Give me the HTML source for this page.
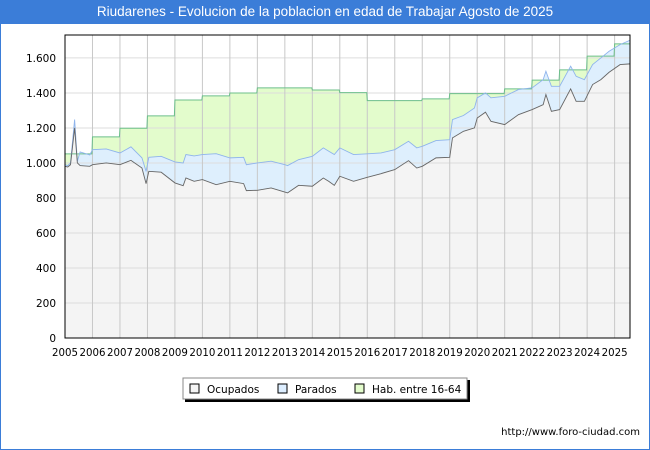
<!DOCTYPE html>
<html><head><meta charset="utf-8"><style>
body{margin:0;width:650px;height:450px;overflow:hidden;background:#fff;font-family:"Liberation Sans",sans-serif}
#frame{position:absolute;left:0;top:0;width:648px;height:448px;border:1px solid #3b7dd8}
#title{position:absolute;left:0;top:0;width:650px;height:24px;background:#3b7dd8;color:#fff;font-size:13.5px;line-height:24px;text-align:center}
#foot{position:absolute;right:10px;top:427px;font-size:10px;color:#000;font-family:"DejaVu Sans",sans-serif}
</style></head><body>
<div id="frame"></div>
<div id="title">Riudarenes - Evolucion de la poblacion en edad de Trabajar Agosto de 2025</div>
<svg id="chart" width="650" height="450" style="position:absolute;left:0;top:0"></svg>
<div id="foot">http://www.foro-ciudad.com</div>
<script>
const times=[2005.0,2005.1,2005.2,2005.35,2005.45,2005.55,2005.9,2006.0,2006.5,2007.0,2007.4,2007.8,2007.95,2008.05,2008.5,2009.0,2009.3,2009.4,2009.7,2010.0,2010.5,2011.0,2011.5,2011.6,2012.0,2012.5,2013.0,2013.1,2013.5,2014.0,2014.4,2014.6,2014.8,2015.0,2015.5,2016.0,2016.5,2017.0,2017.5,2017.8,2018.0,2018.5,2019.0,2019.1,2019.5,2019.9,2020.0,2020.3,2020.5,2021.0,2021.5,2022.0,2022.4,2022.5,2022.7,2023.0,2023.4,2023.6,2023.9,2024.2,2024.5,2024.8,2025.2,2025.58];
const ocupados=[981,977,990,1200,1000,985,981,990,1000,990,1015,971,882,952,947,886,870,914,895,905,876,895,882,842,844,857,834,829,872,867,914,895,872,924,895,918,939,962,1013,971,981,1029,1032,1143,1181,1200,1257,1290,1238,1219,1276,1305,1333,1391,1295,1305,1423,1352,1352,1448,1476,1518,1562,1566];
const activos=[990,985,1000,1248,1010,1063,1046,1076,1080,1057,1092,1029,952,1032,1038,1006,1000,1048,1040,1048,1053,1029,1032,990,1000,1010,990,985,1019,1038,1086,1067,1048,1086,1048,1052,1057,1076,1124,1086,1095,1128,1133,1248,1271,1314,1372,1400,1372,1381,1419,1429,1476,1524,1438,1438,1553,1495,1476,1562,1600,1638,1676,1701];
const habYears=[2005,2006,2007,2008,2009,2010,2011,2012,2013,2014,2015,2016,2017,2018,2019,2020,2021,2022,2023,2024,2025];
const habValues=[1052,1149,1198,1269,1360,1383,1400,1429,1429,1417,1402,1356,1356,1366,1396,1396,1423,1473,1532,1610,1680];
const yTicks=[0,200,400,600,800,1000,1200,1400,1600];
const yTickLabels=["0","200","400","600","800","1.000","1.200","1.400","1.600"];
const xYears=[2005,2006,2007,2008,2009,2010,2011,2012,2013,2014,2015,2016,2017,2018,2019,2020,2021,2022,2023,2024,2025];

const L=65,R=630,T=35,B=338,X0=2005,X1=2025.56,YMAX=1731;
const sx=v=>L+(v-X0)/(X1-X0)*(R-L);
const sy=v=>B-v/YMAX*(B-T);
const svg=document.getElementById('chart');
const NS='http://www.w3.org/2000/svg';
const FONT='"DejaVu Sans", sans-serif';
function mk(tag,attrs,parent){const e=document.createElementNS(NS,tag);for(const k in attrs)e.setAttribute(k,attrs[k]);(parent||svg).appendChild(e);return e;}

mk('rect',{x:L,y:T,width:R-L,height:B-T,fill:'#fff'});
const habPts=[];
habYears.forEach((y,i)=>{const t0=Math.max(y,X0);const t1=i<habYears.length-1?habYears[i+1]-0.02:2025.58;habPts.push([sx(t0),sy(habValues[i])]);habPts.push([sx(Math.min(t1,X1)),sy(habValues[i])]);});
const linePts=(ts,vs)=>ts.map((t,i)=>[sx(Math.min(t,X1)),sy(vs[i])]);
const areaPath=pts=>'M'+pts[0][0]+','+B+' '+pts.map(p=>'L'+p[0]+','+p[1]).join(' ')+' L'+pts[pts.length-1][0]+','+B+'Z';
const linePath=pts=>'M'+pts.map(p=>p[0]+','+p[1]).join(' L');

let e=mk('path',{d:areaPath(habPts),fill:'#e3fccc'});

const actPts=linePts(times,activos);
e=mk('path',{d:areaPath(actPts),fill:'#ddeeff',opacity:'0.95'});

const ocPts=linePts(times,ocupados);
e=mk('path',{d:areaPath(ocPts),fill:'#f4f4f4'});


yTicks.forEach((v,i)=>{
  mk('line',{x1:L,x2:R,y1:sy(v),y2:sy(v),stroke:'#ddd','stroke-width':1});
  const t=mk('text',{x:L-9,y:sy(v)+4,'text-anchor':'end','font-size':10.5,fill:'#000','font-family':FONT});
  t.textContent=yTickLabels[i];
  
  
});
xYears.forEach(y=>{
  mk('line',{x1:sx(y),x2:sx(y),y1:T,y2:B,stroke:'#c8c8c8','stroke-width':1});
  const t=mk('text',{x:sx(y),y:356,'text-anchor':'middle','font-size':10.5,fill:'#000','font-family':FONT,textLength:26,lengthAdjust:'spacingAndGlyphs'});
  t.textContent=y;
  
  
});

e=mk('path',{d:linePath(habPts),fill:'none',stroke:'#6cbf8a','stroke-width':1});

e=mk('path',{d:linePath(actPts),fill:'none',stroke:'#8fb4ec','stroke-width':0.9});

e=mk('path',{d:linePath(ocPts),fill:'none',stroke:'#666','stroke-width':0.9});

mk('rect',{x:L,y:T,width:R-L,height:B-T,fill:'none',stroke:'#000','stroke-width':1});

const lg=mk('g',{});

mk('rect',{x:185,y:380,width:285,height:22,fill:'#000'},lg);
mk('rect',{x:183,y:378,width:284,height:21,fill:'#fff',stroke:'#888'},lg);
const items=[["Ocupados","#f4f4f4",190],["Parados","#ddeeff",278],["Hab. entre 16-64","#e3fccc",355]];
items.forEach(it=>{
  const g=mk('g',{},lg);
  
  mk('rect',{x:it[2],y:384,width:9,height:9,fill:it[1],stroke:'#000','stroke-width':1},g);
  const t=mk('text',{x:it[2]+17,y:393,'font-size':10.5,fill:'#000','font-family':FONT},g);t.textContent=it[0];
});
</script>
</body></html>
